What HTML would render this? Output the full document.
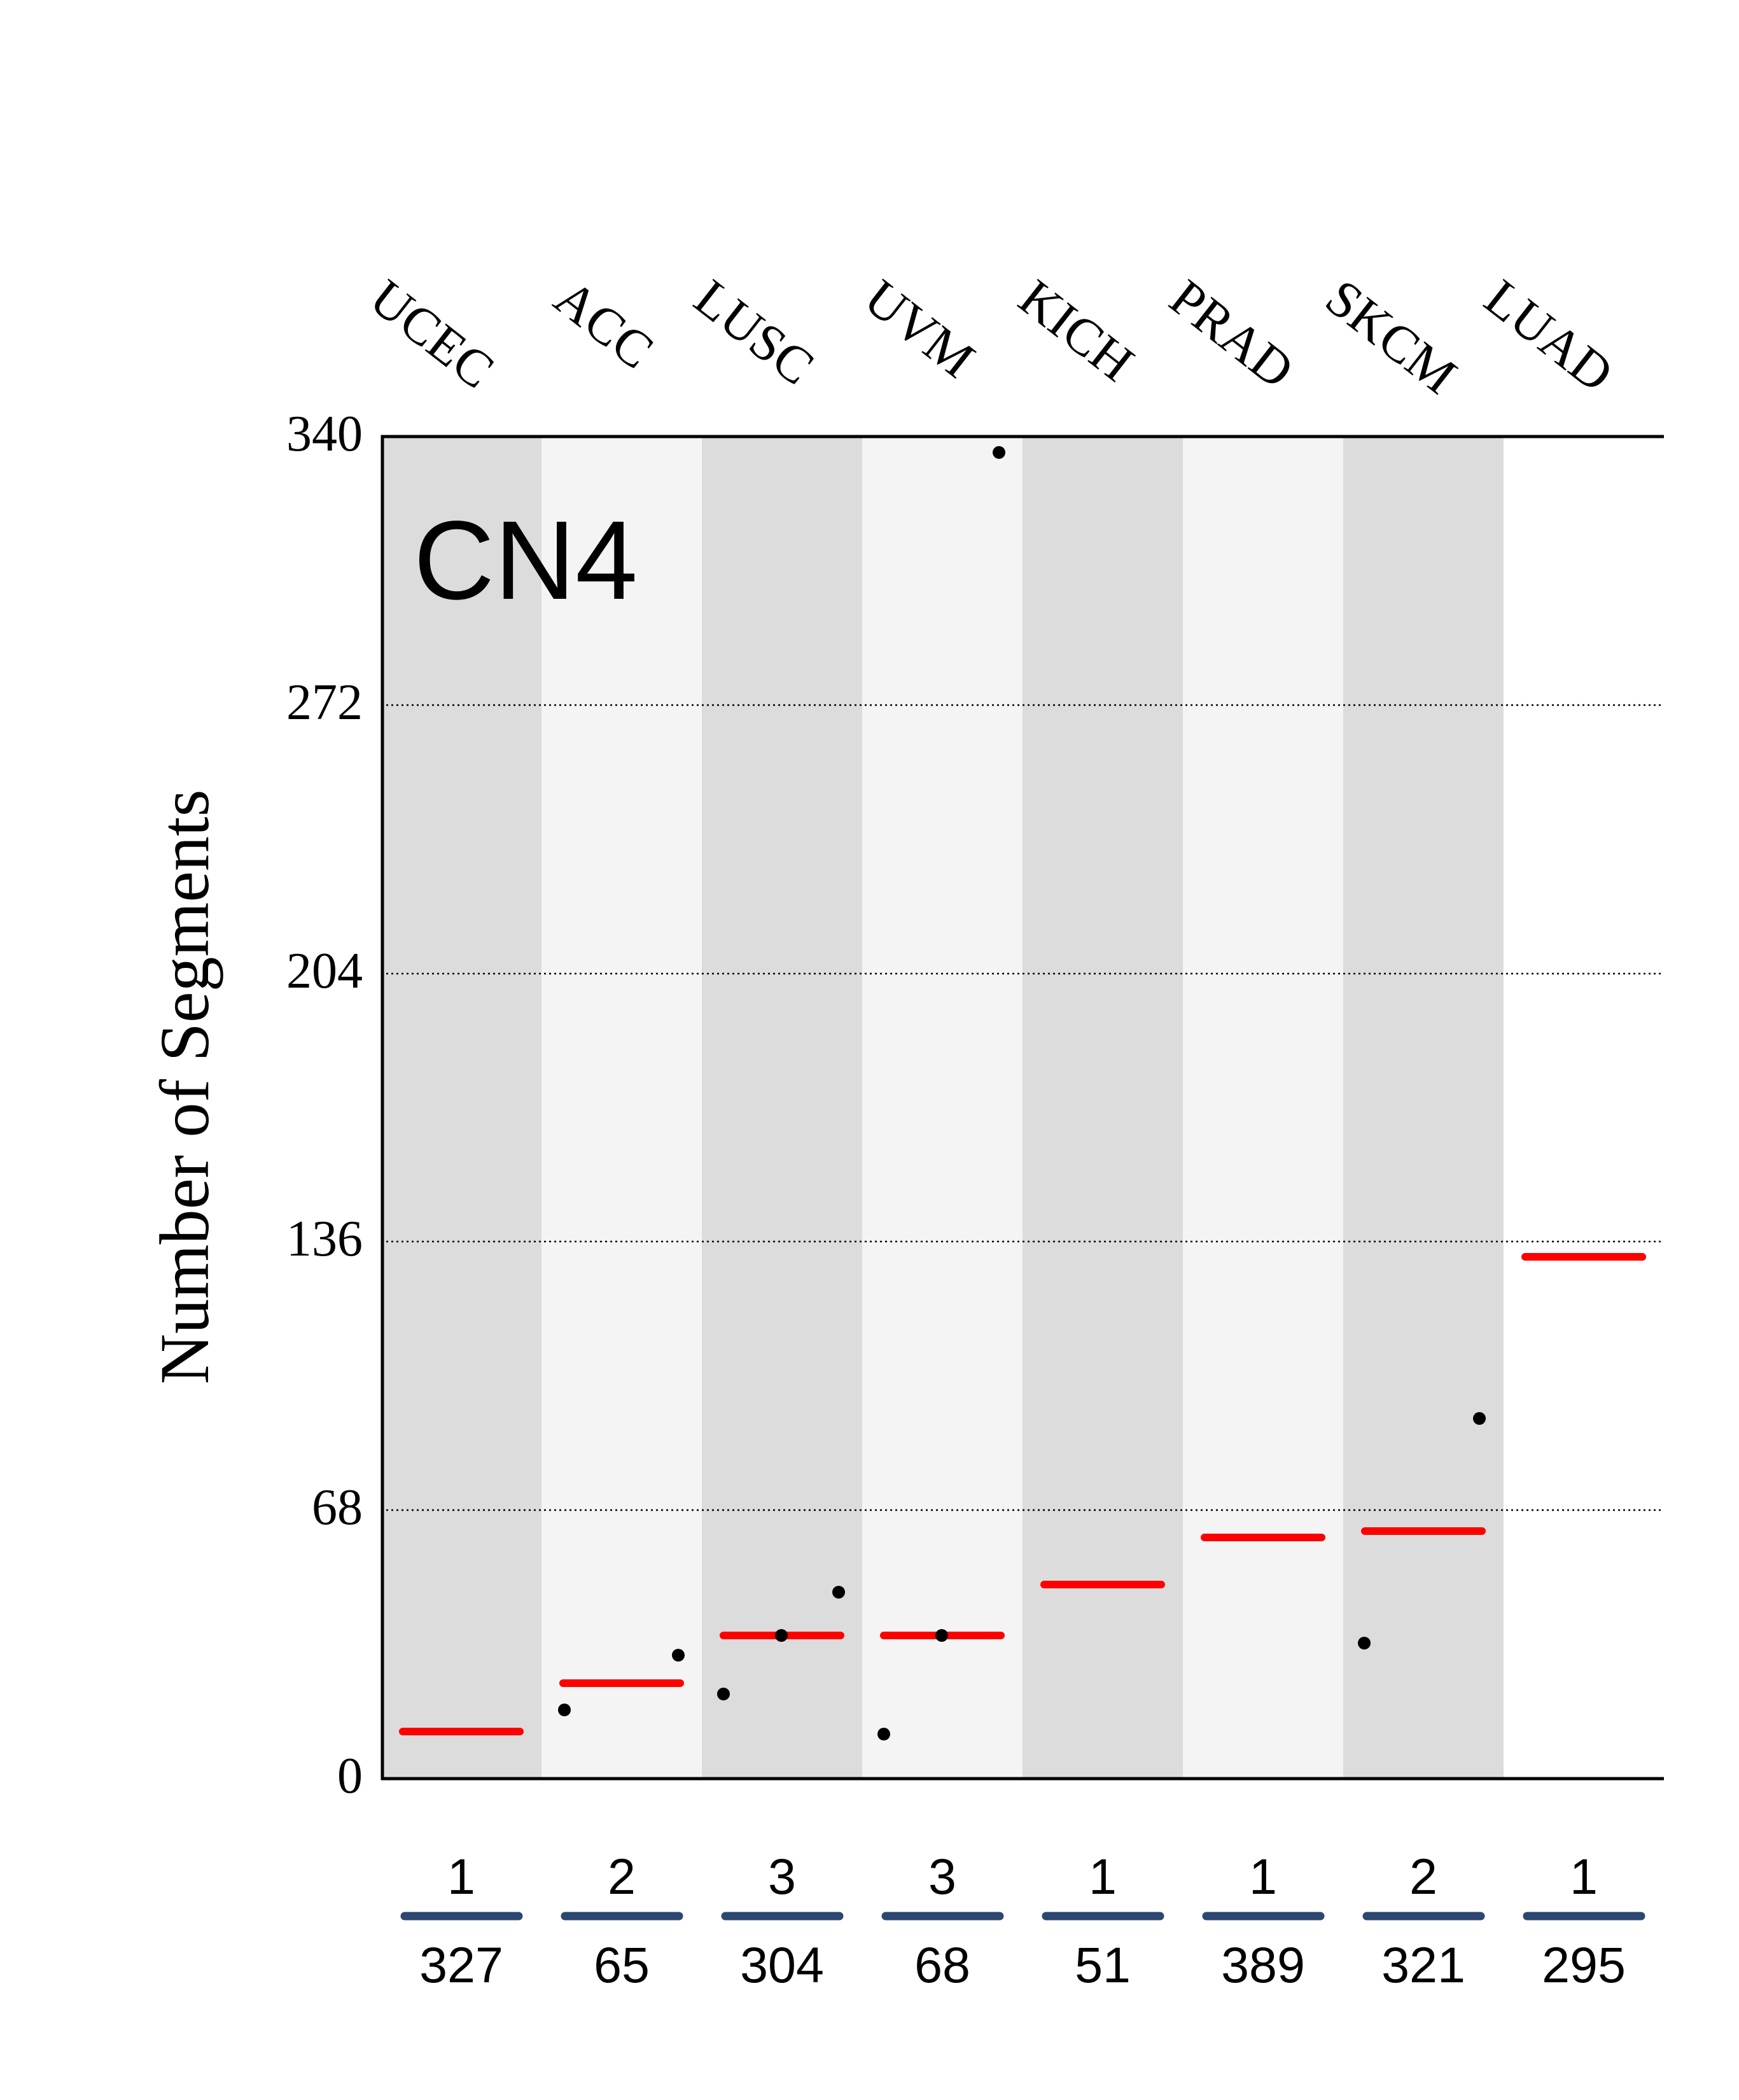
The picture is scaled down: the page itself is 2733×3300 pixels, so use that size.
<!DOCTYPE html>
<html><head><meta charset="utf-8"><style>html,body{margin:0;padding:0;background:#fff}svg{display:block}</style></head>
<body>
<svg width="2733" height="3300" viewBox="0 0 2733 3300" xmlns="http://www.w3.org/2000/svg">
<rect width="2733" height="3300" fill="#fff"/>
<g transform="translate(0,3)">
<g>
<rect x="599" y="683" width="252" height="2109" fill="#dcdcdc"/>
<rect x="851" y="683" width="252" height="2109" fill="#f4f4f4"/>
<rect x="1103" y="683" width="252" height="2109" fill="#dcdcdc"/>
<rect x="1355" y="683" width="252" height="2109" fill="#f4f4f4"/>
<rect x="1607" y="683" width="252" height="2109" fill="#dcdcdc"/>
<rect x="1859" y="683" width="252" height="2109" fill="#f4f4f4"/>
<rect x="2111" y="683" width="252" height="2109" fill="#dcdcdc"/>
</g>
<g stroke="#000" stroke-width="2.5" stroke-dasharray="3,5">
<line x1="599" y1="1105" x2="2615" y2="1105"/>
<line x1="599" y1="1527" x2="2615" y2="1527"/>
<line x1="599" y1="1948" x2="2615" y2="1948"/>
<line x1="599" y1="2370" x2="2615" y2="2370"/>
</g>
<g stroke="#000" stroke-width="5" fill="none">
<line x1="599" y1="683" x2="2615" y2="683"/>
<line x1="599" y1="2792" x2="2615" y2="2792"/>
<line x1="601" y1="681" x2="601" y2="2794"/>
</g>
<g font-family="Liberation Serif, serif" font-size="80" text-anchor="end" fill="#000">
<text x="570" y="705">340</text>
<text x="570" y="1127">272</text>
<text x="570" y="1549">204</text>
<text x="570" y="1970">136</text>
<text x="570" y="2392">68</text>
<text x="570" y="2814">0</text>
</g>
<text transform="translate(327,1705) rotate(-90)" font-family="Liberation Serif, serif" font-size="110" text-anchor="middle">Number of Segments</text>
<text x="650" y="938" font-family="Liberation Sans, sans-serif" font-size="176">CN4</text>
<g font-family="Liberation Serif, serif" font-size="82" fill="#000">
<text transform="translate(576,476) rotate(38)">UCEC</text>
<text transform="translate(866,476) rotate(38)">ACC</text>
<text transform="translate(1086,476) rotate(38)">LUSC</text>
<text transform="translate(1353,476) rotate(38)">UVM</text>
<text transform="translate(1596,476) rotate(38)">KICH</text>
<text transform="translate(1833,476) rotate(38)">PRAD</text>
<text transform="translate(2078,476) rotate(38)">SKCM</text>
<text transform="translate(2328,476) rotate(38)">LUAD</text>
</g>
<g stroke="#ff0000" stroke-width="12" stroke-linecap="round">
<line x1="633" y1="2718" x2="817" y2="2718"/>
<line x1="885" y1="2642" x2="1069" y2="2642"/>
<line x1="1137" y1="2567" x2="1321" y2="2567"/>
<line x1="1389" y1="2567" x2="1573" y2="2567"/>
<line x1="1641" y1="2487" x2="1825" y2="2487"/>
<line x1="1893" y1="2413" x2="2077" y2="2413"/>
<line x1="2145" y1="2403" x2="2329" y2="2403"/>
<line x1="2397" y1="1972" x2="2581" y2="1972"/>
</g>
<g fill="#000">
<circle cx="887" cy="2684" r="10"/>
<circle cx="1066" cy="2598" r="10"/>
<circle cx="1137" cy="2659" r="10"/>
<circle cx="1228" cy="2567" r="10"/>
<circle cx="1318" cy="2499" r="10"/>
<circle cx="1389" cy="2722" r="10"/>
<circle cx="1480" cy="2567" r="10"/>
<circle cx="1570" cy="708" r="10"/>
<circle cx="2144" cy="2579" r="10"/>
<circle cx="2325" cy="2226" r="10"/>
</g>
<g stroke="#2c4770" stroke-width="13" stroke-linecap="round">
<line x1="636" y1="3008" x2="815" y2="3008"/>
<line x1="888" y1="3008" x2="1067" y2="3008"/>
<line x1="1140" y1="3008" x2="1319" y2="3008"/>
<line x1="1392" y1="3008" x2="1571" y2="3008"/>
<line x1="1644" y1="3008" x2="1823" y2="3008"/>
<line x1="1896" y1="3008" x2="2075" y2="3008"/>
<line x1="2148" y1="3008" x2="2327" y2="3008"/>
<line x1="2400" y1="3008" x2="2579" y2="3008"/>
</g>
<g font-family="Liberation Sans, sans-serif" font-size="79" text-anchor="middle" fill="#000">
<text x="725" y="2973">1</text><text x="977" y="2973">2</text><text x="1229" y="2973">3</text><text x="1481" y="2973">3</text>
<text x="1733" y="2973">1</text><text x="1985" y="2973">1</text><text x="2237" y="2973">2</text><text x="2489" y="2973">1</text>
<text x="725" y="3112">327</text><text x="977" y="3112">65</text><text x="1229" y="3112">304</text><text x="1481" y="3112">68</text>
<text x="1733" y="3112">51</text><text x="1985" y="3112">389</text><text x="2237" y="3112">321</text><text x="2489" y="3112">295</text>
</g>
</g>
</svg>
</body></html>
